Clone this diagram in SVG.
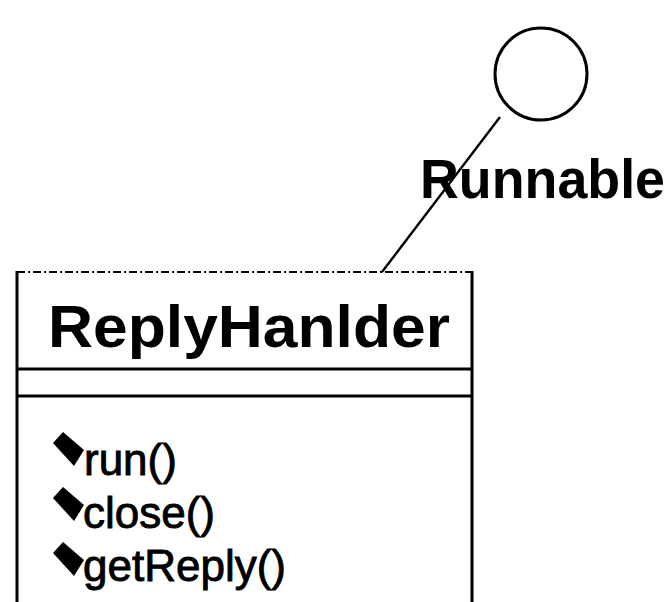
<svg xmlns="http://www.w3.org/2000/svg" width="671" height="602" viewBox="0 0 671 602">
  <style>
    .edge { fill: none; stroke: #000; stroke-width: 3; }
    .top { fill: none; stroke: #000; stroke-width: 2; stroke-dasharray: 8 3 2 3; }
    .title { font-family: "Liberation Sans", Arial, sans-serif; font-weight: bold; fill: #000; }
    .op { font-family: "Liberation Sans", Arial, sans-serif; font-size: 44px; fill: #000; stroke: #000; stroke-width: 0.9; }
    .vis { fill: #000; }
  </style>
  <rect width="671" height="602" fill="#fff"/>

  <!-- interface lollipop -->
  <g id="runnable">
    <circle cx="541" cy="74" r="46" class="edge"/>
    <text x="420" y="198" class="title" font-size="55" textLength="245" lengthAdjust="spacingAndGlyphs">Runnable</text>
  </g>

  <g id="connectors">
    <line x1="500" y1="117" x2="382" y2="272" stroke="#000" stroke-width="2.4"/>
  </g>

  <!-- class box -->
  <g id="reply-handler">
    <line x1="17" y1="272" x2="472" y2="272" class="top"/>
    <line x1="17" y1="271" x2="17" y2="602" class="edge"/>
    <line x1="472" y1="271" x2="472" y2="602" class="edge"/>
    <line x1="17" y1="369" x2="472" y2="369" class="edge"/>
    <line x1="17" y1="396" x2="472" y2="396" class="edge"/>
    <text x="48" y="347" class="title" font-size="59" textLength="402" lengthAdjust="spacingAndGlyphs">ReplyHanlder</text>

    <polygon class="vis" points="53,443 63,432 84,450 74,466"/>
    <text x="84" y="475" class="op">run()</text>
    <polygon class="vis" points="53,498 63,487 84,505 74,521"/>
    <text x="83" y="528" class="op">close()</text>
    <polygon class="vis" points="53,553 63,542 84,560 74,576"/>
    <text x="83" y="581" class="op">getReply()</text>
  </g>
</svg>
